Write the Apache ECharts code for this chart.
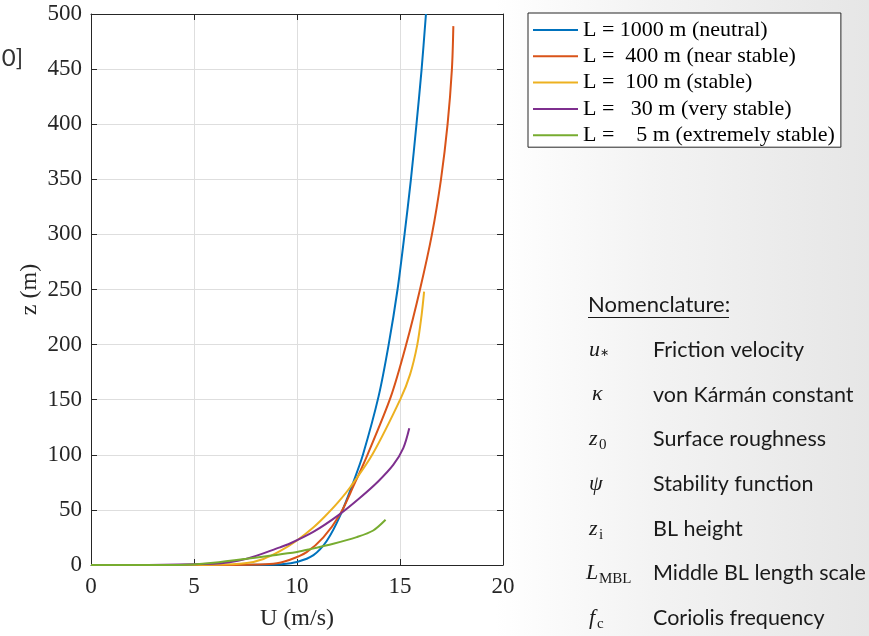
<!DOCTYPE html>
<html>
<head>
<meta charset="utf-8">
<script src="https://cdn.jsdelivr.net/npm/echarts@6/dist/echarts.min.js"></script>
<style>
html,body{margin:0;padding:0;width:869px;height:636px;overflow:hidden;
background:linear-gradient(90deg,#ffffff 0%,#ffffff 57%,#f3f3f3 75%,#e6e6e6 100%);}
#chart{width:869px;height:636px;}
</style>
</head>
<body>
<div id="chart"></div>
<script>
// ---- data ----
const legendNames = [
  'L = 1000 m (neutral)',
  'L =  400 m (near stable)',
  'L =  100 m (stable)',
  'L =   30 m (very stable)',
  'L =    5 m (extremely stable)'
];
const xTicks = [0, 5, 10, 15, 20];
const yTicks = [0, 50, 100, 150, 200, 250, 300, 350, 400, 450, 500];

const uL1000 = [0, 7.0, 8.5, 9.2, 10.0, 10.8, 11.45, 12.1, 12.75, 13.2, 13.96, 14.45, 14.88, 15.22, 15.53, 15.8, 16.05, 16.26];
const zL1000 = [0, 0.05, 0.3, 0.7, 2.8, 9, 22, 45, 76, 100, 153, 200, 250, 300, 350, 400, 450, 500];

const uL400 = [0, 6.5, 8.85, 9.66, 10.47, 11.28, 12.09, 12.75, 13.42, 14.56, 15.3, 15.97, 16.55, 16.99, 17.31, 17.52, 17.59];
const zL400 = [0, 0.1, 1.2, 4.8, 11.7, 25, 46, 72, 100, 153, 200, 250, 300, 350, 400, 450, 489];

const uL100 = [0, 6.0, 7.56, 8.37, 9.17, 9.98, 10.79, 11.35, 12.0, 12.6, 13.65, 15.03, 15.49, 15.84, 16.05, 16.17];
const zL100 = [0, 0.3, 1.8, 5.5, 12.5, 22, 34, 44, 57, 71, 100, 151, 173, 200, 227, 248];

const uL30 = [0, 5.94, 7.56, 9.17, 9.66, 10.79, 12.0, 13.06, 13.95, 14.68, 15.16, 15.45];
const zL30 = [0, 1.2, 5.7, 16, 19.5, 30, 45, 61, 76, 91, 106, 124];

const uL5 = [0, 4.3, 5.94, 7.56, 10.0, 10.63, 11.76, 12.9, 13.7, 14.3];
const zL5 = [0, 0.1, 2.1, 5.7, 11.9, 14.3, 19.2, 25.3, 31.3, 41];

const nomSymbols = [
  {main: 'u', sub: '∗'},
  {main: 'κ', sub: ''},
  {main: 'z', sub: '0'},
  {main: 'ψ', sub: ''},
  {main: 'z', sub: 'i'},
  {main: 'L', sub: 'MBL'},
  {main: 'f', sub: 'c'}
];
const nomTexts = [
  'Friction velocity',
  'von Kármán constant',
  'Surface roughness',
  'Stability function',
  'BL height',
  'Middle BL length scale',
  'Coriolis frequency'
];

// ---- build ----
const colors = ['#0072BD', '#D95319', '#EDB120', '#7E2F8E', '#77AC30'];
const pairs = (u, z) => u.map((v, i) => [v, z[i]]);
const seriesData = [pairs(uL1000, zL1000), pairs(uL400, zL400), pairs(uL100, zL100), pairs(uL30, zL30), pairs(uL5, zL5)];

const serif = "'Liberation Serif','Times New Roman',serif";
const sans = "Lato,'Open Sans',sans-serif";
const ink = '#262626';

const series = seriesData.map((d, i) => ({
  name: legendNames[i],
  type: 'line',
  data: d,
  xAxisIndex: 0,
  yAxisIndex: 0,
  symbol: 'none',
  smooth: 0.3,
  lineStyle: {color: colors[i], width: 2},
  itemStyle: {color: colors[i]},
  z: 3 + i,
  animation: false
}));

const graphics = [];
graphics.push({type: 'text', x: 23, y: 58, style: {text: '0]', align: 'right', verticalAlign: 'middle',
  font: "24px " + sans, fill: '#333'}});
graphics.push({type: 'text', x: 588, y: 305, style: {text: 'Nomenclature:', verticalAlign: 'middle',
  font: "22px " + sans, fill: '#1a1a1a'}});
graphics.push({type: 'line', shape: {x1: 588, y1: 317.5, x2: 729, y2: 317.5}, style: {stroke: '#1a1a1a', lineWidth: 1}});
nomSymbols.forEach((s, i) => {
  const cy = 350 + i * 44.7;
  const mx = s.main === 'L' ? 586 : (s.main === 'κ' ? 592 : 589);
  graphics.push({type: 'text', x: mx, y: cy, style: {text: s.main, verticalAlign: 'middle',
    font: "italic 22px " + serif, fill: '#1a1a1a'}});
  if (s.sub) {
    const w = s.main === 'L' ? 13 : (s.main === 'f' ? 8 : 10);
    const isStar = s.sub === '∗';
    graphics.push({type: 'text', x: mx + w + (isStar ? 1 : 0), y: cy + (isStar ? 3 : 6), style: {text: s.sub, verticalAlign: 'middle',
      font: (isStar ? "11px " : "15px ") + serif, fill: '#1a1a1a'}});
  }
  graphics.push({type: 'text', x: 653, y: cy, style: {text: nomTexts[i], verticalAlign: 'middle',
    font: "21.5px " + sans, fill: '#1a1a1a'}});
});

const chart = echarts.init(document.getElementById('chart'), null, {renderer: 'canvas'});
const baseX = {type: 'value', min: xTicks[0], max: xTicks[xTicks.length - 1], interval: xTicks[1] - xTicks[0]};
const baseY = {type: 'value', min: yTicks[0], max: yTicks[yTicks.length - 1], interval: yTicks[1] - yTicks[0]};
chart.setOption({
  animation: false,
  backgroundColor: 'transparent',
  grid: {left: 91, right: 366, top: 14, bottom: 68, show: true, backgroundColor: '#ffffff', borderWidth: 0},
  legend: {
    orient: 'vertical', left: 528, top: 13,
    padding: [6, 6, 1, 5], itemGap: 4.3, itemWidth: 45, itemHeight: 2, icon: 'rect',
    backgroundColor: '#ffffff', borderColor: ink, borderWidth: 1,
    textStyle: {fontFamily: serif, fontSize: 22, color: '#000', lineHeight: 22},
    data: legendNames, selectedMode: false
  },
  xAxis: [
    Object.assign({}, baseX, {
      position: 'bottom', name: 'U (m/s)', nameLocation: 'middle', nameGap: 42,
      nameTextStyle: {fontFamily: serif, fontSize: 24, color: ink},
      axisLine: {show: true, lineStyle: {color: ink, width: 1}},
      axisTick: {show: true, inside: true, length: 6, lineStyle: {color: ink}},
      axisLabel: {fontFamily: serif, fontSize: 23, color: ink, margin: 10},
      splitLine: {show: true, lineStyle: {color: '#dedede', width: 1}}
    }),
    Object.assign({}, baseX, {
      position: 'top',
      axisLine: {show: true, onZero: false, lineStyle: {color: ink, width: 1}},
      axisTick: {show: true, inside: true, length: 6, lineStyle: {color: ink}},
      axisLabel: {show: false}, splitLine: {show: false}
    })
  ],
  yAxis: [
    Object.assign({}, baseY, {
      position: 'left', name: 'z (m)', nameLocation: 'middle', nameGap: 49, nameRotate: 90,
      nameTextStyle: {fontFamily: serif, fontSize: 24, color: ink},
      axisLine: {show: true, lineStyle: {color: ink, width: 1}},
      axisTick: {show: true, inside: true, length: 6, lineStyle: {color: ink}},
      axisLabel: {fontFamily: serif, fontSize: 23, color: ink, margin: 9},
      splitLine: {show: true, lineStyle: {color: '#dedede', width: 1}}
    }),
    Object.assign({}, baseY, {
      position: 'right',
      axisLine: {show: true, onZero: false, lineStyle: {color: ink, width: 1}},
      axisTick: {show: true, inside: true, length: 6, lineStyle: {color: ink}},
      axisLabel: {show: false}, splitLine: {show: false}
    })
  ],
  series: series,
  graphic: graphics
});
</script>
</body>
</html>
